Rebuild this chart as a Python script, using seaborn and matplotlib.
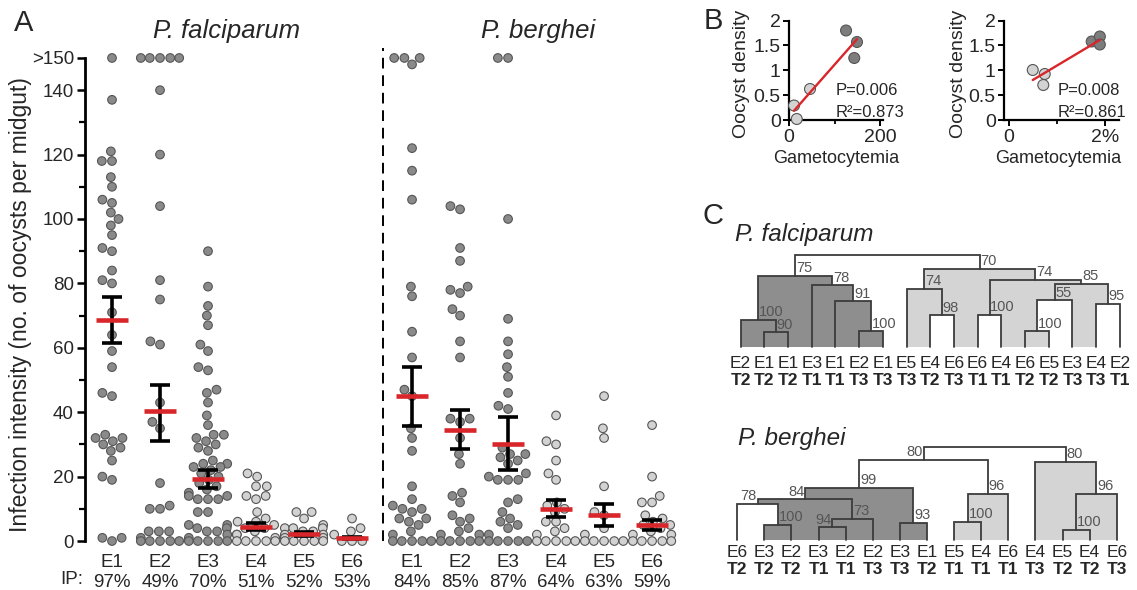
import numpy as np
import pandas as pd
import matplotlib
matplotlib.use("Agg")
import matplotlib.pyplot as plt
import seaborn as sns
from matplotlib import font_manager

sns.set_theme(style="white")
_fams = {f.name for f in font_manager.fontManager.ttflist}
BASE = "Liberation Sans" if "Liberation Sans" in _fams else "DejaVu Sans"
NARROW = "Liberation Sans Narrow" if "Liberation Sans Narrow" in _fams else BASE
plt.rcParams["font.family"] = [BASE, "DejaVu Sans"]
plt.rcParams["axes.unicode_minus"] = False

# ---------------- data: panel A (oocysts per midgut; >150 drawn at 150) ----------------
groups = ["E1", "E2", "E3", "E4", "E5", "E6"]
pf_E1 = [150, 137, 121, 118, 118, 113, 110, 106, 105, 102, 100, 98, 95, 91, 90, 84, 81, 80, 71, 64,
         59, 54, 46, 45, 33, 32, 32, 31, 30, 29, 28, 25, 20, 19, 1, 0, 1]
pf_E2 = [150, 150, 150, 150, 150, 140, 120, 104, 81, 75, 62, 61, 43, 37, 35, 18, 11, 10, 10, 3, 3, 3,
         1, 0, 0, 0, 0, 0]
pf_E3 = [90, 79, 73, 70, 67, 61, 59, 54, 53, 47, 46, 43, 39, 36, 33, 33, 32, 31, 30, 29, 28, 25, 24,
         24, 23, 23, 22, 21, 20, 19, 18, 17, 16, 15, 14, 14, 13, 13, 13, 9, 9, 5, 5, 4, 4, 3, 3, 2, 1,
         0, 0, 0, 0, 0]
pf_E4 = [21, 20, 17, 17, 14, 14, 13, 9, 7, 6, 6, 5, 4, 4, 3, 2, 2, 1, 0, 0, 0, 0, 0]
pf_E5 = [9, 9, 7, 5, 4, 4, 4, 3, 3, 2, 2, 1, 1, 0, 0, 0, 0, 0]
pf_E6 = [7, 4, 3, 2, 0, 0, 0]
pb_E1 = [150, 150, 150, 148, 122, 115, 106, 79, 76, 65, 57, 47, 45, 35, 32, 28, 17, 13, 11, 10, 10, 9,
         7, 7, 6, 5, 3, 2, 0, 0, 0, 0, 0]
pb_E2 = [104, 103, 91, 87, 79, 78, 77, 72, 70, 62, 57, 38, 38, 37, 32, 27, 24, 15, 14, 12, 8, 7, 6, 4,
         3, 2, 2, 0, 0, 0, 0, 0]
pb_E3 = [150, 150, 100, 69, 62, 58, 54, 51, 46, 42, 41, 29, 27, 27, 26, 25, 24, 21, 19, 19, 19, 20, 13,
         12, 9, 7, 6, 5, 4, 2, 0, 0, 0, 0, 0]
pb_E4 = [39, 31, 30, 25, 21, 19, 12, 11, 10, 9, 6, 6, 4, 3, 2, 0, 0, 0, 0, 0]
pb_E5 = [45, 35, 32, 17, 9, 8, 4, 2, 0, 0, 0, 0, 0]
pb_E6 = [36, 20, 14, 12, 12, 8, 7, 6, 5, 5, 4, 3, 2, 2, 0, 0, 0, 0, 0]

pf_ip = ["97%", "49%", "70%", "51%", "52%", "53%"]
pb_ip = ["84%", "85%", "87%", "64%", "63%", "59%"]
pf_mean = [68.5, 40.3, 19.3, 4.5, 2.2, 1.0]
pf_sem_lo = [61.6, 31.2, 16.5, 3.4, 1.6, 0.6]
pf_sem_hi = [75.9, 48.6, 22.0, 5.7, 2.9, 1.4]
pb_mean = [45.0, 34.6, 30.1, 9.9, 8.2, 5.1]
pb_sem_lo = [35.8, 28.6, 22.0, 7.5, 4.7, 3.5]
pb_sem_hi = [54.1, 40.6, 38.6, 12.6, 11.6, 6.5]

# ---------------- data: panel B ----------------
bL_x = [11, 17, 46, 125, 143, 149]
bL_y = [0.30, 0.03, 0.63, 1.80, 1.25, 1.57]
bR_x = [0.50, 0.75, 0.72, 1.73, 1.90, 1.90]
bR_y = [1.01, 0.93, 0.71, 1.58, 1.68, 1.52]
b_shade = ["low", "low", "low", "high", "high", "high"]
bL_stats = ["P=0.006", "R²=0.873"]
bR_stats = ["P=0.008", "R²=0.861"]

# ---------------- data: panel C (trees) ----------------
pf_leaf_e = ["E2", "E1", "E1", "E3", "E1", "E2", "E1", "E5", "E4", "E6", "E6", "E4", "E6", "E5", "E3", "E4", "E2"]
pf_leaf_t = ["T2", "T2", "T2", "T1", "T1", "T3", "T3", "T3", "T2", "T3", "T1", "T1", "T2", "T2", "T3", "T3", "T1"]
pf_child_a = [1, 0, 5, 4, 3, 18, 8, 7, 10, 12, 26, 15, 27, 25, 24, 22]
pf_child_b = [2, 17, 6, 19, 20, 21, 9, 23, 11, 13, 14, 16, 28, 29, 30, 31]
pf_height = [14.7, 27.3, 15.7, 45.7, 61.7, 71.3, 31.7, 58.0, 32.3, 15.7, 46.7, 43.0, 63.0, 67.3, 78.0, 92.3]
pf_support = ["90", "100", "100", "91", "78", "75", "98", "74", "100", "100", "55", "95", "85", "74", "70", ""]
pf_group = ["d", "d", "d", "d", "d", "d", "w", "l", "w", "l", "w", "w", "l", "l", "l", "w"]

pb_leaf_e = ["E6", "E3", "E2", "E3", "E2", "E2", "E3", "E1", "E5", "E4", "E6", "E4", "E5", "E4", "E6"]
pb_leaf_t = ["T2", "T2", "T2", "T1", "T1", "T3", "T3", "T2", "T1", "T1", "T1", "T3", "T2", "T2", "T3"]
pb_child_a = [1, 0, 3, 17, 16, 6, 19, 8, 22, 21, 12, 25, 11, 24]
pb_child_b = [2, 15, 4, 5, 18, 7, 20, 9, 10, 23, 13, 14, 26, 27]
pb_height = [15.0, 36.0, 12.7, 21.0, 40.7, 17.3, 51.7, 18.3, 46.0, 80.0, 10.0, 46.0, 78.3, 92.7]
pb_support = ["100", "78", "94", "73", "84", "93", "99", "100", "96", "80", "100", "96", "80", ""]
pb_group = ["d", "w", "d", "d", "d", "d", "d", "l", "l", "w", "l", "l", "l", "w"]
pb_label_side = ["l", "r", "r", "l", "r", "l", "l", "l", "l", "r", "l", "l", "l", "l"]

# ---------------- styling ----------------
W, H = 1137, 590
DARK, LIGHT = "#8a8a8a", "#d2d2d2"
RED = "#d8262b"
TREE_FILL = {"d": "#8e8e8e", "l": "#d4d4d4", "w": "white"}


def fx(px):
    return px / W


def fy(py):
    return 1 - py / H


def box(l, t, r, b):
    return [l / W, 1 - b / H, (r - l) / W, (b - t) / H]


fig = plt.figure(figsize=(W / 100, H / 100), dpi=100)

# ================= Panel A =================
axA = fig.add_axes(box(85, 48.3, 690, 550.7))
pf_pos = np.arange(6, dtype=float)
pb_pos = np.arange(6, dtype=float) + 6.25
series = [pf_E1, pf_E2, pf_E3, pf_E4, pf_E5, pf_E6, pb_E1, pb_E2, pb_E3, pb_E4, pb_E5, pb_E6]
positions = list(pf_pos) + list(pb_pos)
rows = []
for k, (p, vals) in enumerate(zip(positions, series)):
    shade = "high" if (k % 6) < 3 else "low"
    for v in vals:
        rows.append({"pos": p, "value": v, "shade": shade})
dfA = pd.DataFrame(rows)

sns.swarmplot(data=dfA, x="pos", y="value", hue="shade", palette={"high": DARK, "low": LIGHT},
              native_scale=True, orient="x", size=6.2, linewidth=0.8, edgecolor="#555555",
              legend=False, warn_thresh=1.0, ax=axA, zorder=2)

means = pf_mean + pb_mean
lo = pf_sem_lo + pb_sem_lo
hi = pf_sem_hi + pb_sem_hi
axA.errorbar(positions, means, yerr=[np.array(means) - np.array(lo), np.array(hi) - np.array(means)],
             fmt="none", ecolor="black", elinewidth=2.6, capsize=7, capthick=2.6, zorder=4)
axA.hlines(means, np.array(positions) - 0.34, np.array(positions) + 0.34, color=RED, lw=3.3, zorder=5)

axA.plot([5.65, 5.65], [0, 153], ls=(0, (5.5, 3.5)), color="black", lw=1.4, clip_on=False)

axA.set_xlim(-0.5625, 12.04)
axA.set_ylim(-3, 153)
axA.set_yticks([0, 20, 40, 60, 80, 100, 120, 140, 150],
               ["0", "20", "40", "60", "80", "100", "120", "140", ">150"])
axA.set_yticks([10, 30, 50, 70, 90, 110, 130], minor=True)
axA.set_xticks(positions, [f"{g}\n{ip}" for g, ip in zip(groups + groups, pf_ip + pb_ip)])
for s in ["top", "right", "bottom"]:
    axA.spines[s].set_visible(False)
axA.spines["left"].set_bounds(0, 150)
axA.spines["left"].set_linewidth(2.0)
axA.spines["left"].set_color("black")
axA.tick_params(axis="y", which="major", direction="out", length=6, width=1.8, labelsize=13.5, pad=2,
                left=True, color="black")
axA.tick_params(axis="y", which="minor", direction="out", length=4, width=1.6, left=True, color="black")
axA.tick_params(axis="x", length=0, labelsize=13.5, pad=2.5)
axA.set_xlabel("")
axA.set_ylabel("Infection intensity (no. of oocysts per midgut)", fontsize=16.5)
axA.yaxis.set_label_coords(-0.088, 0.49)
fig.text(fx(83), fy(579.5), "IP:", ha="right", va="center", fontsize=13.5)
fig.text(fx(24), fy(23), "A", ha="center", va="center", fontsize=21)
fig.text(fx(227), fy(31), "P. falciparum", ha="center", va="center", fontsize=18.5, style="italic")
fig.text(fx(538), fy(31), "P. berghei", ha="center", va="center", fontsize=18.5, style="italic")

# ================= Panel B =================
def scatter_panel(ax, xs, ys, stats, xlim, xticks, xticklabels, xminor, xlab_x, ylab_x, stat_x):
    d = pd.DataFrame({"x": xs, "y": ys, "shade": b_shade})
    sns.scatterplot(data=d, x="x", y="y", hue="shade", palette={"high": "#7d7d7d", "low": "#d3d3d3"},
                    s=62, edgecolor="#555555", linewidth=0.8, legend=False, ax=ax, clip_on=False, zorder=3)
    sns.regplot(data=d, x="x", y="y", scatter=False, ci=None, truncate=True, color=RED,
                line_kws={"lw": 1.7, "zorder": 4}, ax=ax)
    ax.set_xlim(*xlim)
    ax.set_ylim(0, 2)
    ax.set_xticks(xticks, xticklabels)
    ax.set_xticks(xminor, minor=True)
    ax.set_yticks([0, 0.5, 1, 1.5, 2], ["0", "0.5", "1", "1.5", "2"])
    for s in ["top", "right"]:
        ax.spines[s].set_visible(False)
    for s in ["left", "bottom"]:
        ax.spines[s].set_linewidth(1.6)
        ax.spines[s].set_color("black")
    ax.tick_params(which="major", direction="out", length=4, width=1.4, labelsize=14, pad=2,
                   left=True, bottom=True, color="black")
    ax.tick_params(which="minor", direction="out", length=3, width=1.3, bottom=True, color="black")
    ax.set_xlabel("Gametocytemia", fontsize=13)
    ax.set_ylabel("Oocyst density", fontsize=14)
    ax.xaxis.set_label_coords(xlab_x, -0.30)
    ax.yaxis.set_label_coords(ylab_x, 0.47)
    ax.text(stat_x, 0.30, stats[0], transform=ax.transAxes, fontsize=12, va="center", ha="left")
    ax.text(stat_x, 0.08, stats[1], transform=ax.transAxes, fontsize=12, va="center", ha="left")


axB1 = fig.add_axes(box(789, 20.5, 883, 120.5))
scatter_panel(axB1, bL_x, bL_y, bL_stats, (0, 206), [0, 200], ["0", "200"], [100], 0.5, -0.415, 0.50)
axB2 = fig.add_axes(box(1004, 20.5, 1119, 120.5))
scatter_panel(axB2, bR_x, bR_y, bR_stats, (-0.1, 2.3), [0, 2], ["0", "2%"], [1], 0.47, -0.32, 0.47)
fig.text(fx(713), fy(21), "B", ha="center", va="center", fontsize=21)

# ================= Panel C =================
def draw_tree(ax, leaf_e, leaf_t, ca, cb, hts, sup, grp, sides, e_off, t_off):
    n = len(leaf_e)
    xs = list(range(n))
    hs = [0.0] * n
    for a, b, h in zip(ca, cb, hts):
        xs.append((xs[a] + xs[b]) / 2)
        hs.append(h)
    order = sorted(range(len(hts)), key=lambda i: -hts[i])
    for i in order:
        a, b = ca[i], cb[i]
        ax.fill_between([xs[a], xs[b]], 0, hts[i], color=TREE_FILL[grp[i]], lw=0, zorder=1)
    for i in range(len(hts)):
        a, b = ca[i], cb[i]
        ax.plot([xs[a], xs[a], xs[b], xs[b]], [hs[a], hts[i], hts[i], hs[b]], color="#3c3c3c",
                lw=1.3, zorder=3, solid_joinstyle="miter", clip_on=False)
        if sup[i]:
            c = xs[n + i]
            if sides[i] == "l":
                ax.text(c + 0.03, hts[i] + 0.8, sup[i], ha="left", va="bottom", fontsize=10.5,
                        color="#555555", family=NARROW, zorder=4)
            else:
                ax.text(c - 0.03, hts[i] + 0.8, sup[i], ha="right", va="bottom", fontsize=10.5,
                        color="#555555", family=NARROW, zorder=4)
    for i in range(n):
        ax.text(i, -e_off, leaf_e[i], ha="center", va="center", fontsize=12.5)
        ax.text(i, -t_off, leaf_t[i], ha="center", va="center", fontsize=12.5, fontweight="bold")
    ax.set_ylim(0, 100)
    ax.axis("off")


axC1 = fig.add_axes(box(724, 247, 1136.5, 347))
axC1.set_xlim(-0.7, 16.7)
draw_tree(axC1, pf_leaf_e, pf_leaf_t, pf_child_a, pf_child_b, pf_height, pf_support, pf_group,
          ["l"] * len(pf_height), 16.5, 33.5)
axC2 = fig.add_axes(box(721, 440, 1135.7, 540))
axC2.set_xlim(-0.6, 14.7)
draw_tree(axC2, pb_leaf_e, pb_leaf_t, pb_child_a, pb_child_b, pb_height, pb_support, pb_group,
          pb_label_side, 12.2, 29.2)

fig.text(fx(713), fy(216), "C", ha="center", va="center", fontsize=21)
fig.text(fx(735), fy(234), "P. falciparum", ha="left", va="center", fontsize=17.5, style="italic")
fig.text(fx(738), fy(439), "P. berghei", ha="left", va="center", fontsize=17.5, style="italic")

fig.savefig("out.png", dpi=100, facecolor="white")
